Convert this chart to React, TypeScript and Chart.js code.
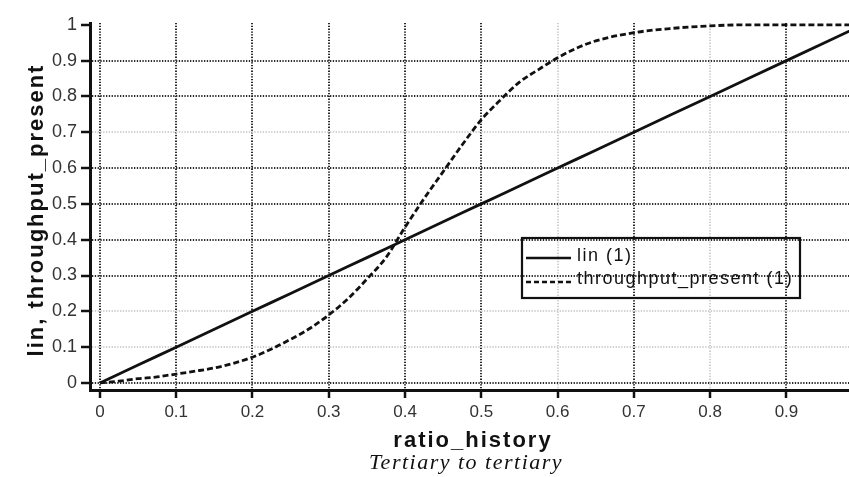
import React, { useEffect, useRef } from "react";
import { Chart, registerables } from "chart.js";

Chart.register(...registerables);

const xValues = [0, 0.025, 0.05, 0.075, 0.1, 0.125, 0.15, 0.175, 0.2, 0.225, 0.25, 0.275, 0.3, 0.325, 0.35, 0.375, 0.4, 0.425, 0.45, 0.475, 0.5, 0.525, 0.55, 0.575, 0.6, 0.625, 0.65, 0.7, 0.75, 0.8, 0.85, 0.9, 0.95, 1.0];
const linValues = [0, 0.025, 0.05, 0.075, 0.1, 0.125, 0.15, 0.175, 0.2, 0.225, 0.25, 0.275, 0.3, 0.325, 0.35, 0.375, 0.4, 0.425, 0.45, 0.475, 0.5, 0.525, 0.55, 0.575, 0.6, 0.625, 0.65, 0.7, 0.75, 0.8, 0.85, 0.9, 0.95, 1.0];
const throughputValues = [0, 0.005, 0.012, 0.017, 0.025, 0.033, 0.042, 0.055, 0.072, 0.095, 0.122, 0.152, 0.19, 0.235, 0.29, 0.35, 0.435, 0.515, 0.59, 0.665, 0.735, 0.79, 0.84, 0.875, 0.908, 0.935, 0.955, 0.978, 0.99, 0.997, 1.0, 1.0, 1.0, 1.0];

const xTicks = [0, 0.1, 0.2, 0.3, 0.4, 0.5, 0.6, 0.7, 0.8, 0.9];
const yTicks = [0, 0.1, 0.2, 0.3, 0.4, 0.5, 0.6, 0.7, 0.8, 0.9, 1];
const xFaint = [0.6, 0.8];
const yFaint = [0.1, 0.2, 0.7];
const yHidden = [1];

const seriesNames = ["lin (1)", "throughput_present (1)"];
const xTitle = "ratio_history";
const yTitle = "lin, throughput_present";
const caption = "Tertiary to tertiary";

const SANS = '"Liberation Sans", Arial, sans-serif';
const SERIF = '"Liberation Serif", "Times New Roman", serif';

const decorPlugin = {
  id: "decor",
  beforeDraw(chart: any) {
    const ctx = chart.ctx;
    ctx.save();
    ctx.fillStyle = "#ffffff";
    ctx.fillRect(0, 0, chart.width, chart.height);
    ctx.restore();
  },
  afterDraw(chart: any) {
    const ctx = chart.ctx;
    ctx.save();
    ctx.fillStyle = "#111";
    ctx.strokeStyle = "#111";

    ctx.font = `bold 22px ${SANS}`;
    (ctx as any).letterSpacing = "2px";
    ctx.textAlign = "center";
    ctx.textBaseline = "alphabetic";
    ctx.fillText(xTitle, 473, 447);

    ctx.font = `italic 22px ${SERIF}`;
    (ctx as any).letterSpacing = "1.5px";
    ctx.fillText(caption, 466, 469);

    ctx.save();
    ctx.translate(43, 210);
    ctx.rotate(-Math.PI / 2);
    ctx.font = `bold 22px ${SANS}`;
    (ctx as any).letterSpacing = "2px";
    ctx.textAlign = "center";
    ctx.fillText(yTitle, 0, 0);
    ctx.restore();

    (ctx as any).letterSpacing = "1.5px";
    ctx.lineWidth = 2.2;
    ctx.setLineDash([]);
    ctx.strokeRect(522, 238, 278, 60);
    ctx.lineWidth = 2.6;
    ctx.beginPath();
    ctx.moveTo(526, 258);
    ctx.lineTo(571, 258);
    ctx.stroke();
    ctx.setLineDash([5, 3]);
    ctx.beginPath();
    ctx.moveTo(526, 282);
    ctx.lineTo(571, 282);
    ctx.stroke();
    ctx.setLineDash([]);
    ctx.font = `18px ${SANS}`;
    ctx.textAlign = "left";
    ctx.textBaseline = "middle";
    ctx.fillText(seriesNames[0], 577, 256);
    ctx.fillText(seriesNames[1], 577, 279);
    ctx.restore();
  },
};

export default function App() {
  const ref = useRef<HTMLCanvasElement | null>(null);

  useEffect(() => {
    if (!ref.current) return;
    const chart = new Chart(ref.current, {
      type: "line",
      data: {
        datasets: [
          {
            label: seriesNames[0],
            data: xValues.map((x, i) => ({ x, y: linValues[i] })),
            borderColor: "#111",
            borderWidth: 2.8,
            pointRadius: 0,
            fill: false,
          },
          {
            label: seriesNames[1],
            data: xValues.map((x, i) => ({ x, y: throughputValues[i] })),
            borderColor: "#111",
            borderWidth: 2.8,
            borderDash: [6, 3],
            pointRadius: 0,
            fill: false,
            cubicInterpolationMode: "monotone",
          },
        ],
      },
      options: {
        responsive: false,
        animation: false,
        devicePixelRatio: 1,
        layout: { padding: { top: 23, left: 0, right: 0, bottom: 0 } },
        plugins: {
          legend: { display: false },
          tooltip: { enabled: false },
          title: { display: false },
        },
        scales: {
          x: {
            type: "linear",
            min: -0.013,
            max: 0.982,
            afterBuildTicks: (s: any) => {
              s.ticks = xTicks.map((v) => ({ value: v }));
            },
            afterFit: (s: any) => {
              s.height = 87;
            },
            ticks: {
              autoSkip: false,
              maxRotation: 0,
              padding: 4,
              color: "#333",
              font: { family: SANS, size: 17 },
              callback: (v: any) => String(v),
            },
            grid: {
              color: (c: any) =>
                c.tick && xFaint.includes(c.tick.value) ? "#cfcfcf" : "#2a2a2a",
              lineWidth: 2,
              tickColor: "#111",
              tickLength: 8,
              tickWidth: 2.5,
            },
            border: { display: true, color: "#111", width: 3, dash: [1.3, 1.5] },
          },
          y: {
            type: "linear",
            min: -0.0196,
            max: 1.005,
            afterBuildTicks: (s: any) => {
              s.ticks = yTicks.map((v) => ({ value: v }));
            },
            afterFit: (s: any) => {
              s.width = 90;
            },
            ticks: {
              autoSkip: false,
              padding: 4,
              color: "#333",
              font: { family: SANS, size: 18 },
              callback: (v: any) => String(v),
            },
            grid: {
              color: (c: any) =>
                c.tick && yHidden.includes(c.tick.value)
                  ? "rgba(0,0,0,0)"
                  : c.tick && yFaint.includes(c.tick.value)
                  ? "#cfcfcf"
                  : "#2a2a2a",
              lineWidth: 2,
              tickColor: "#111",
              tickLength: 9,
              tickWidth: 2.5,
            },
            border: { display: true, color: "#111", width: 3, dash: [1.3, 1.5] },
          },
        },
      },
      plugins: [decorPlugin],
    } as any);
    return () => chart.destroy();
  }, []);

  return (
    <div style={{ position: "fixed", left: 0, top: 0, width: 849, height: 477, background: "#fff" }}>
      <canvas ref={ref} width={849} height={477} />
    </div>
  );
}
